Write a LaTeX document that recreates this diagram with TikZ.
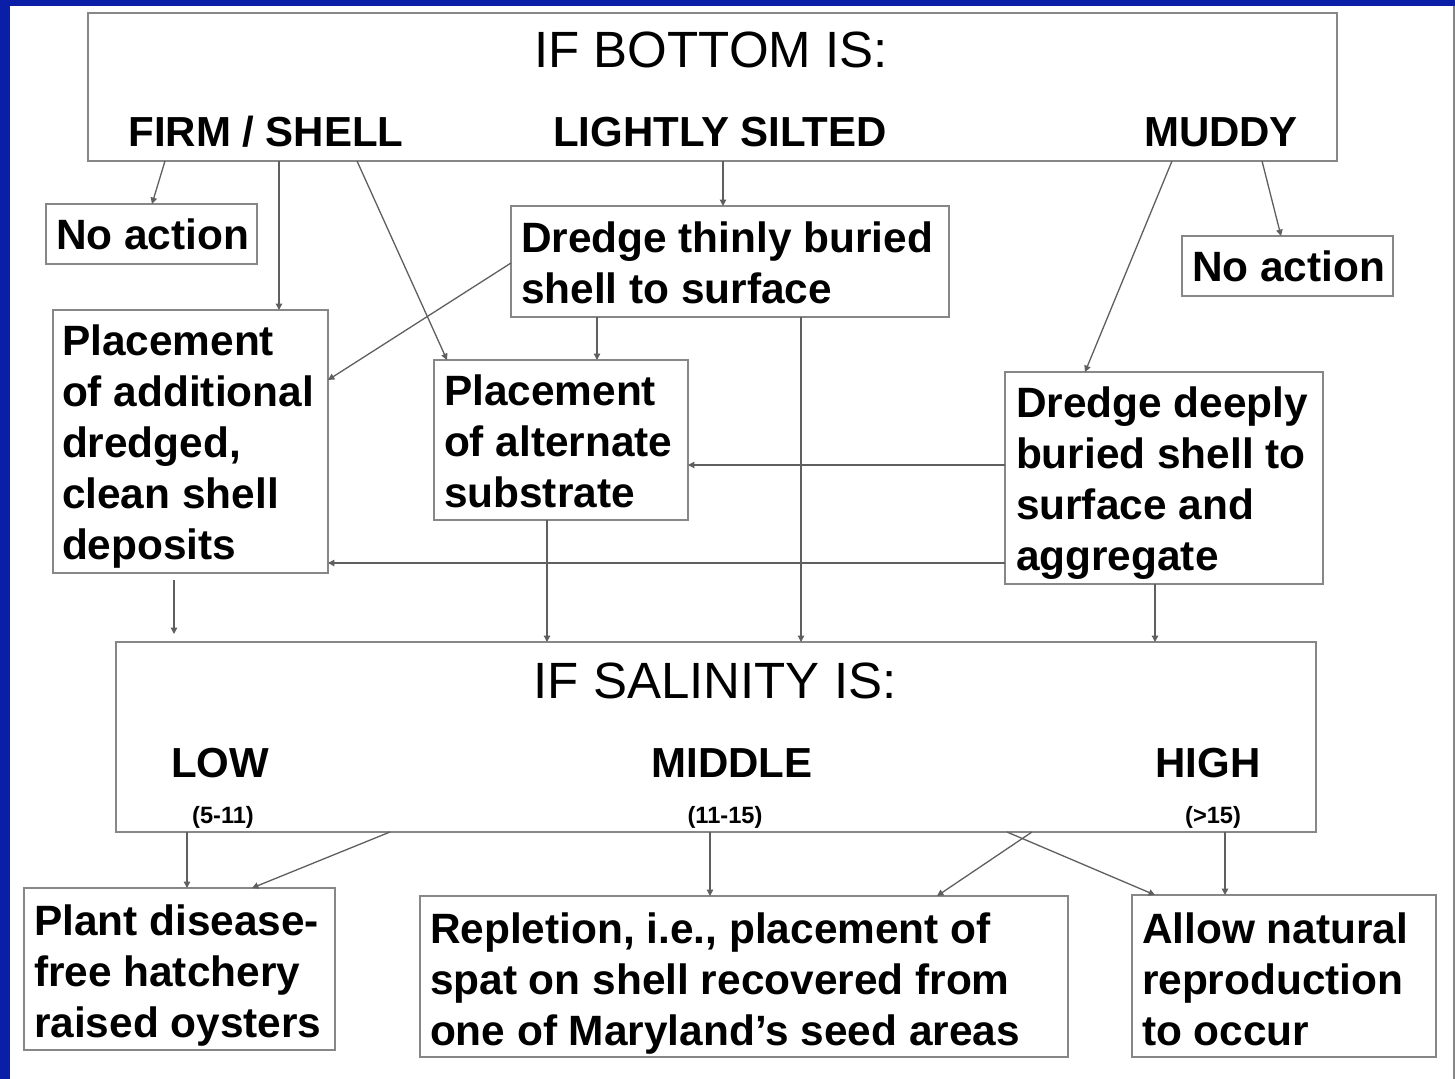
\documentclass[tikz,border=0pt]{standalone}
\usepackage{fontspec}
\setmainfont{Liberation Sans}
\usetikzlibrary{arrows.meta}
\definecolor{frameblue}{RGB}{10,30,168}
\definecolor{boxgray}{RGB}{135,135,135}
\definecolor{linegray}{RGB}{95,95,95}
\newcommand{\mkbox}[5]{\node[boxst, anchor=north west, minimum width={(#4-#2)*0.5pt}, minimum height={(#5-#3)*0.5pt}] (#1) at (#2,#3) {};}
\newcommand{\bodyfont}{\fontsize{21.2}{25.5}\selectfont\bfseries}
\begin{document}
\begin{tikzpicture}[x=0.5pt,y=-0.5pt,
  boxst/.style={draw=boxgray, line width=1pt, fill=white, inner sep=0pt, outer sep=0pt},
  txtlbl/.style={inner sep=0pt, outer sep=0pt, anchor=base west, font=\bodyfont},
  headlbl/.style={inner sep=0pt, outer sep=0pt, anchor=base, font=\fontsize{21}{25}\selectfont\bfseries},
  titlelbl/.style={inner sep=0pt, outer sep=0pt, anchor=base, font=\fontsize{25.5}{30}\selectfont},
  rangelbl/.style={inner sep=0pt, outer sep=0pt, anchor=base, font=\fontsize{11.8}{14}\selectfont\bfseries},
  conn/.style={draw=linegray, line width=0.65pt, -{Triangle[length=3.2pt,width=3.2pt]}}]
\useasboundingbox (0,0) rectangle (1455,1079);
\fill[white] (0,0) rectangle (1455,1079);
\fill[frameblue] (0,0) rectangle (1455,6);
\fill[frameblue] (0,0) rectangle (10,1079);
\draw[boxgray, line width=0.6pt] (1454,6) -- (1454,1079);
% boxes
\mkbox{top}{88}{13}{1337}{161}
\mkbox{noL}{46}{204}{257}{264}
\mkbox{thin}{511}{206}{949}{317}
\mkbox{noR}{1182}{236}{1393}{296}
\mkbox{addl}{53}{310}{328}{573}
\mkbox{alt}{434}{360}{688}{520}
\mkbox{deep}{1005}{372}{1323}{584}
\mkbox{sal}{116}{642}{1316}{832}
\mkbox{plant}{24}{888}{335}{1050}
\mkbox{rep}{420}{896}{1068}{1057}
\mkbox{allow}{1132}{895}{1436}{1057}
% texts
\node[titlelbl] (tb) at (711,68) {IF BOTTOM IS:};
\node[headlbl] (firm) at (266,147) {FIRM / SHELL};
\node[headlbl] (silt) at (720,147) {LIGHTLY SILTED};
\node[headlbl] (mud) at (1221,147) {MUDDY};
\node[txtlbl] (tnoL) at (56,250) {No action};
\node[txtlbl] (tnoR) at (1192,282) {No action};
\node[txtlbl] (tthin) at (521,253) {\parbox[t]{400pt}{Dredge thinly buried\\shell to surface}};
\node[txtlbl] (taddl) at (62,356) {\parbox[t]{400pt}{Placement\\of additional\\dredged,\\clean shell\\deposits}};
\node[txtlbl] (talt) at (444,406) {\parbox[t]{400pt}{Placement\\of alternate\\substrate}};
\node[txtlbl] (tdeep) at (1016,418) {\parbox[t]{400pt}{Dredge deeply\\buried shell to\\surface and\\aggregate}};
\node[titlelbl] (ts) at (715,698) {IF SALINITY IS:};
\node[headlbl] (low) at (220,777) {LOW};
\node[headlbl] (mid) at (732,777) {MIDDLE};
\node[headlbl] (high) at (1208,777) {HIGH};
\node[rangelbl] (rlow) at (223,823) {(5-11)};
\node[rangelbl] (rmid) at (725,823) {(11-15)};
\node[rangelbl] (rhigh) at (1213,823) {(>15)};
\node[txtlbl] (tplant) at (34,935) {\parbox[t]{400pt}{Plant disease-\\free hatchery\\raised oysters}};
\node[txtlbl] (trep) at (430,943) {\parbox[t]{600pt}{Repletion, i.e., placement of\\spat on shell recovered from\\one of Maryland’s seed areas}};
\node[txtlbl] (tallow) at (1142,943) {\parbox[t]{400pt}{Allow natural\\reproduction\\to occur}};
% connectors
\draw[conn] (top.south -| 165,0) -- (noL.north -| 152,0);
\draw[conn] (top.south -| 279,0) -- (addl.north -| 279,0);
\draw[conn] (top.south -| 357,0) -- (alt.north -| 447,0);
\draw[conn] (thin.west |- 0,263) -- (addl.east |- 0,380);
\draw[conn] (top.south -| 723,0) -- (thin.north -| 723,0);
\draw[conn] (thin.south -| 597,0) -- (alt.north -| 597,0);
\draw[conn] (thin.south -| 801,0) -- (sal.north -| 801,0);
\draw[conn] (top.south -| 1172,0) -- (deep.north -| 1085,0);
\draw[conn] (top.south -| 1262,0) -- (noR.north -| 1281,0);
\draw[conn] (deep.west |- 0,465) -- (alt.east |- 0,465);
\draw[conn] (deep.west |- 0,563) -- (addl.east |- 0,563);
\draw[conn] (deep.south -| 1155,0) -- (sal.north -| 1155,0);
\draw[conn, shorten <=3.5pt, shorten >=4pt] (addl.south -| 174,0) -- (sal.north -| 174,0);
\draw[conn] (alt.south -| 547,0) -- (sal.north -| 547,0);
\draw[conn] (sal.south -| 187,0) -- (plant.north -| 187,0);
\draw[conn] (sal.south -| 390,0) -- (plant.north -| 252,0);
\draw[conn] (sal.south -| 710,0) -- (rep.north -| 710,0);
\draw[conn] (sal.south -| 1032,0) -- (rep.north -| 937,0);
\draw[conn] (sal.south -| 1007,0) -- (allow.north -| 1155,0);
\draw[conn] (sal.south -| 1225,0) -- (allow.north -| 1225,0);
\end{tikzpicture}
\end{document}
